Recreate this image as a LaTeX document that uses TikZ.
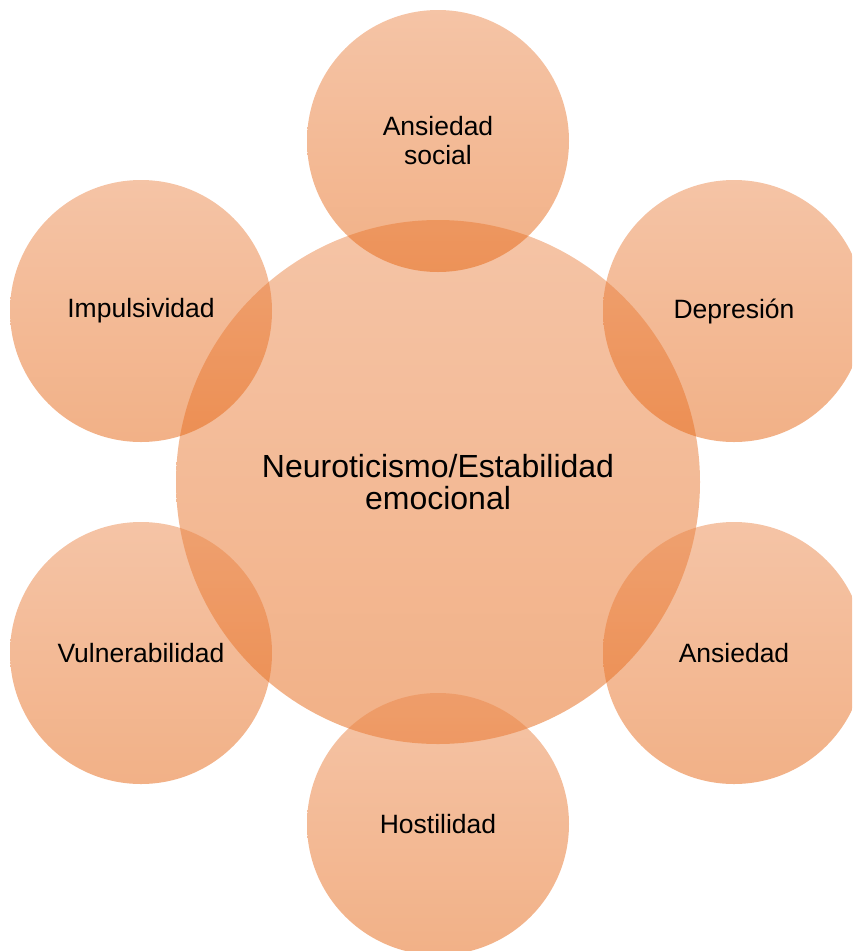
\documentclass[tikz,border=0pt]{standalone}
\usepackage{fontspec}
\setmainfont{Liberation Sans}
\definecolor{petaltop}{HTML}{EB894D}
\definecolor{petalbot}{HTML}{E5630F}
\tikzset{
  bubble/.style={circle, inner sep=0pt, align=center,
    top color=petaltop, bottom color=petalbot, draw=none,
    fill opacity=0.5, text opacity=1, text=black},
  petal/.style={bubble, minimum size=262pt,
    font=\fontsize{26.5}{29}\selectfont},
  hub/.style={bubble, minimum size=524pt,
    font=\fontsize{32}{31.5}\selectfont}
}
\begin{document}
\begin{tikzpicture}[x=1pt,y=-1pt]
  \useasboundingbox (0,0) rectangle (852,951);
  \clip (0,0) rectangle (852,951);
  \node[hub] (hub) at (438,482) {Neuroticismo/Estabilidad\\emocional};
  \node[petal] (social) at (438,141) {Ansiedad\\social};
  \node[petal] (dep) at (734,311) {Depresión};
  \node[petal] (ans) at (734,653) {Ansiedad};
  \node[petal] (host) at (438,824) {Hostilidad};
  \node[petal] (vuln) at (141,653) {Vulnerabilidad};
  \node[petal] (imp) at (141,311) {Impulsividad};
\end{tikzpicture}
\end{document}
